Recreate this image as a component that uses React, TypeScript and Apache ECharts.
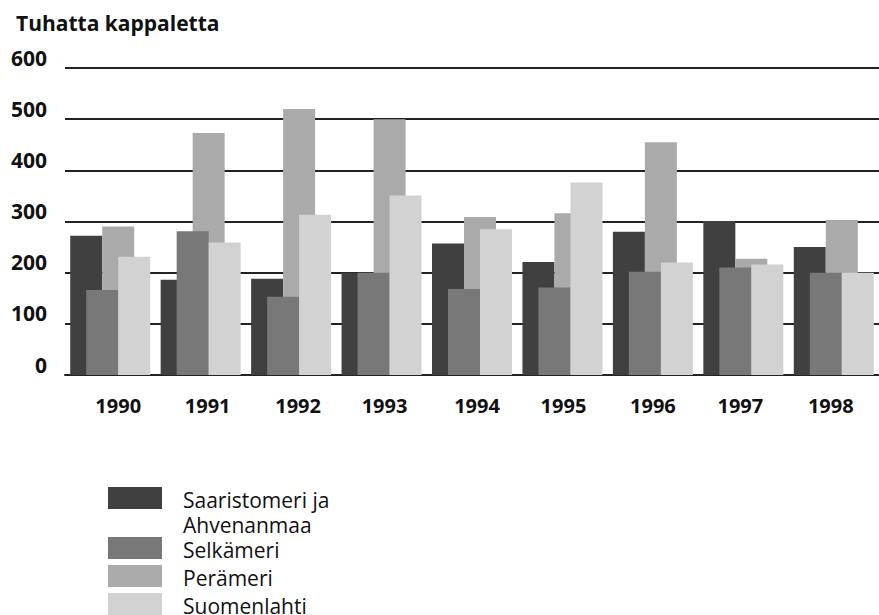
import React, { useEffect, useRef } from "react";
import * as echarts from "echarts";

const years = ["1990", "1991", "1992", "1993", "1994", "1995", "1996", "1997", "1998"];
const seriesNames = ["Saaristomeri ja\nAhvenanmaa", "Selkämeri", "Perämeri", "Suomenlahti"];
const saaristomeri = [272, 186, 188, 200, 257, 221, 280, 301, 250];
const selkameri = [166, 281, 153, 200, 168, 171, 202, 210, 200];
const perameri = [290, 473, 520, 500, 309, 316, 455, 227, 303];
const suomenlahti = [231, 259, 313, 351, 285, 376, 220, 216, 200];
const yTicks = [0, 100, 200, 300, 400, 500, 600];

const colors = ["#404040", "#787878", "#aaaaaa", "#d2d2d2"];
const zOrder = [2, 3, 2, 3];
const labelShift = [8, 7, 7, 3, 5, 1, 0, -3, -3];
const FONT = "'Open Sans', 'Noto Sans', sans-serif";

export default function App() {
  const ref = useRef<HTMLDivElement>(null);
  useEffect(() => {
    if (!ref.current) return;
    const chart = echarts.init(ref.current, null, { renderer: "svg" });
    const values = [saaristomeri, selkameri, perameri, suomenlahti];
    const rich: Record<string, any> = {};
    labelShift.forEach((s, i) => {
      rich["o" + i] = {
        fontFamily: FONT,
        fontWeight: 700,
        fontSize: 20,
        color: "#111",
        padding: s >= 0 ? [0, 0, 0, 2 * s] : [0, -2 * s, 0, 0],
      };
    });
    const swatchTops = [487, 537, 565, 593];
    const legendGraphics: any[] = [];
    seriesNames.forEach((name, i) => {
      legendGraphics.push({
        type: "rect",
        left: 108,
        top: swatchTops[i],
        shape: { width: 54, height: 22 },
        style: { fill: colors[i] },
      });
      legendGraphics.push({
        type: "text",
        left: 183,
        top: swatchTops[i],
        style: {
          text: name,
          fontFamily: FONT,
          fontSize: 21,
          lineHeight: 25,
          fill: "#111",
        },
      });
    });
    chart.setOption({
      animation: false,
      backgroundColor: "#ffffff",
      title: {
        text: "Tuhatta kappaletta",
        left: 11,
        top: 7,
        textStyle: { fontFamily: FONT, fontWeight: 700, fontSize: 21, color: "#111" },
      },
      grid: { left: 65, top: 68, width: 828, height: 307 },
      xAxis: {
        type: "category",
        data: years,
        axisLine: { show: true, lineStyle: { color: "#222", width: 2 } },
        axisTick: { show: false },
        axisLabel: {
          margin: 20,
          formatter: (v: string, i: number) => `{o${i}|${v}}`,
          rich,
        },
      },
      yAxis: {
        type: "value",
        min: yTicks[0],
        max: yTicks[yTicks.length - 1],
        interval: 100,
        axisLine: { show: false },
        axisTick: { show: false },
        splitLine: { show: true, lineStyle: { color: "#222", width: 2 } },
        axisLabel: {
          margin: 18,
          verticalAlign: "bottom",
          fontFamily: FONT,
          fontWeight: 700,
          fontSize: 21,
          color: "#111",
        },
      },
      series: values.map((d, i) => ({
        type: "bar",
        name: seriesNames[i],
        data: d,
        barWidth: 32,
        barGap: "-50%",
        z: zOrder[i],
        itemStyle: { color: colors[i] },
      })),
      graphic: legendGraphics,
    });
    return () => chart.dispose();
  }, []);
  return <div ref={ref} style={{ width: 879, height: 615, position: "absolute", left: 0, top: 0 }} />;
}
